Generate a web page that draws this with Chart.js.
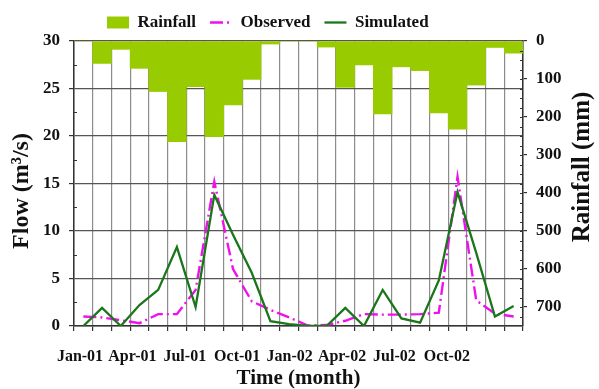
<!DOCTYPE html>
<html>
<head>
<meta charset="utf-8">
<script src="https://cdn.jsdelivr.net/npm/chart.js@4.4.1/dist/chart.umd.min.js"></script>
<style>
  html, body { margin: 0; padding: 0; background: #fff; }
  #wrap { width: 599px; height: 389px; }
</style>
</head>
<body>
<div id="wrap"><canvas id="c" width="599" height="389"></canvas></div>
<script>
// Monthly categories, Jan 2001 - Dec 2002
const months = ['Jan-01','Feb-01','Mar-01','Apr-01','May-01','Jun-01','Jul-01','Aug-01','Sep-01','Oct-01','Nov-01','Dec-01',
                'Jan-02','Feb-02','Mar-02','Apr-02','May-02','Jun-02','Jul-02','Aug-02','Sep-02','Oct-02','Nov-02','Dec-02'];
// Quarterly labels shown under the time axis
const tickLabels = ['Jan-01','Apr-01','Jul-01','Oct-01','Jan-02','Apr-02','Jul-02','Oct-02'];
// Labelled rainfall ticks on the right axis
const rainTicks = [0, 100, 200, 300, 400, 500, 600, 700];

// Monthly rainfall (mm), hanging from the top of the plot
const rainfall = [0, 59, 22, 72, 133, 265, 120, 252, 168, 101, 8, 0,
                  0, 16, 122, 63, 192, 68, 78, 189, 232, 116, 17, 32];
// Observed and simulated flow (m3/s)
const observed = [1.0, 0.9, 0.6, 0.3, 1.25, 1.25, 3.8, 15.2, 6.0, 2.6, 1.7, 0.9,
                  0.05, 0.1, 0.55, 1.25, 1.2, 1.2, 1.25, 1.4, 15.7, 2.7, 1.3, 1.0];
const simulated = [0, 1.9, 0, 2.2, 3.8, 8.3, 2.0, 13.8, 9.6, 5.6, 0.5, 0.2,
                   0, 0, 1.9, 0, 3.8, 0.8, 0.35, 4.8, 14.1, 7.7, 1.0, 2.1];

const SERIF = '"Liberation Serif", "Times New Roman", serif';
Chart.defaults.font.family = SERIF;
Chart.defaults.font.weight = 'bold';
Chart.defaults.color = '#111';

// Minor tick marks, vertical axis titles and legend placement
const frame = {
  id: 'frame',
  afterLayout(chart) {
    const lg = chart.legend;
    if (lg) { lg.left += 93; lg.right += 93; }
  },
  afterDraw(chart) {
    const ctx = chart.ctx;
    const y = chart.scales.y, y2 = chart.scales.y2;
    ctx.save();
    ctx.strokeStyle = '#333';
    ctx.lineWidth = 1.2;
    ctx.beginPath();
    for (let v = 2.5; v < 30; v += 5) {
      const py = Math.round(y.getPixelForValue(v)) + 0.5;
      ctx.moveTo(y.right, py); ctx.lineTo(y.right + 3, py);
    }
    for (let v = 25; v < 750; v += 25) {
      const py = Math.round(y2.getPixelForValue(v)) + 0.5;
      ctx.moveTo(y2.left - 3, py); ctx.lineTo(y2.left, py);
    }
    ctx.stroke();

    ctx.fillStyle = '#111';
    ctx.textAlign = 'center';
    ctx.textBaseline = 'middle';
    ctx.save();
    ctx.translate(22, 191);
    ctx.rotate(-Math.PI / 2);
    ctx.font = 'bold 24px ' + SERIF;
    ctx.fillText('Flow (m\u00B3/s)', 0, 0);
    ctx.restore();
    ctx.save();
    ctx.translate(583, 167);
    ctx.rotate(-Math.PI / 2);
    ctx.font = 'bold 25px ' + SERIF;
    ctx.fillText('Rainfall (mm)', 0, 0);
    ctx.restore();
    ctx.restore();
  }
};

new Chart(document.getElementById('c'), {
  type: 'bar',
  data: {
    labels: months,
    datasets: [
      {
        type: 'bar', label: 'Rainfall', data: rainfall, yAxisID: 'y2', xAxisID: 'x',
        backgroundColor: '#99cc00', borderWidth: 0,
        barPercentage: 1, categoryPercentage: 1, order: 3
      },
      {
        type: 'line', label: 'Observed', data: observed, yAxisID: 'y', xAxisID: 'x',
        borderColor: '#ee11ee', borderWidth: 2.4, borderDash: [13, 4, 2, 4],
        pointRadius: 0, tension: 0, fill: false, order: 2
      },
      {
        type: 'line', label: 'Simulated', data: simulated, yAxisID: 'y', xAxisID: 'x',
        borderColor: '#1b761b', borderWidth: 2.3,
        pointRadius: 0, tension: 0, fill: false, order: 1
      }
    ]
  },
  options: {
    responsive: false,
    animation: false,
    devicePixelRatio: 1,
    layout: { padding: 0 },
    plugins: {
      tooltip: { enabled: false },
      legend: {
        position: 'top',
        align: 'start',
        labels: {
          usePointStyle: true,
          pointStyleWidth: 22,
          boxHeight: 12,
          padding: 14,
          color: '#111',
          font: { size: 17, weight: 'bold', family: SERIF },
          generateLabels(chart) {
            return chart.data.datasets.map((ds, i) => ({
              text: ds.label,
              datasetIndex: i,
              hidden: false,
              fontColor: '#111',
              fillStyle: ds.type === 'line' ? 'rgba(0,0,0,0)' : ds.backgroundColor,
              strokeStyle: ds.type === 'line' ? ds.borderColor : 'rgba(0,0,0,0)',
              lineWidth: ds.type === 'line' ? ds.borderWidth : 0,
              lineDash: ds.borderDash || [],
              pointStyle: ds.type === 'line' ? 'line' : 'rect'
            }));
          }
        }
      }
    },
    scales: {
      x: {
        type: 'category', position: 'bottom', offset: true,
        grid: { offset: true, color: '#8c8c8c', lineWidth: 1.2, tickLength: 5, tickColor: '#333', drawTicks: true },
        border: { display: true, color: '#333', width: 1.5 },
        ticks: { display: false },
        afterFit(s) { s.height = 5; }
      },
      xl: {
        type: 'linear', position: 'bottom', weight: 1, offset: false,
        min: -0.343, max: 25.36,
        grid: { display: false, drawTicks: false, offset: false },
        border: { display: false },
        afterBuildTicks(s) { s.ticks = tickLabels.map((t, i) => ({ value: i * 3 })); },
        ticks: {
          autoSkip: false, maxRotation: 0, minRotation: 0, padding: 16,
          color: '#111', font: { size: 16, weight: 'bold', family: SERIF },
          callback: (v) => tickLabels[Math.round(v / 3)]
        },
        title: {
          display: true, text: 'Time (month)', color: '#111',
          font: { size: 21, weight: 'bold', family: SERIF },
          padding: { top: 0, bottom: -2 }
        },
        afterFit(s) { s.height = 58; }
      },
      y: {
        type: 'linear', position: 'left', min: 0, max: 30,
        ticks: { stepSize: 5, padding: 9, color: '#111', font: { size: 17, weight: 'bold', family: SERIF } },
        grid: { color: '#555', lineWidth: 1.2, tickLength: 5, tickColor: '#333' },
        border: { display: true, color: '#333', width: 1.5 },
        afterFit(s) { s.width = 74; }
      },
      y2: {
        type: 'linear', position: 'right', reverse: true, min: 0, max: 750,
        afterBuildTicks(s) { s.ticks = rainTicks.map(v => ({ value: v })); },
        ticks: { autoSkip: false, padding: 9, color: '#111', font: { size: 17, weight: 'bold', family: SERIF } },
        grid: { drawOnChartArea: false, tickLength: 4, color: '#333', lineWidth: 1.2 },
        border: { display: true, color: '#333', width: 1.5 },
        afterFit(s) { s.width = 76; }
      }
    }
  },
  plugins: [frame]
});
</script>
</body>
</html>
